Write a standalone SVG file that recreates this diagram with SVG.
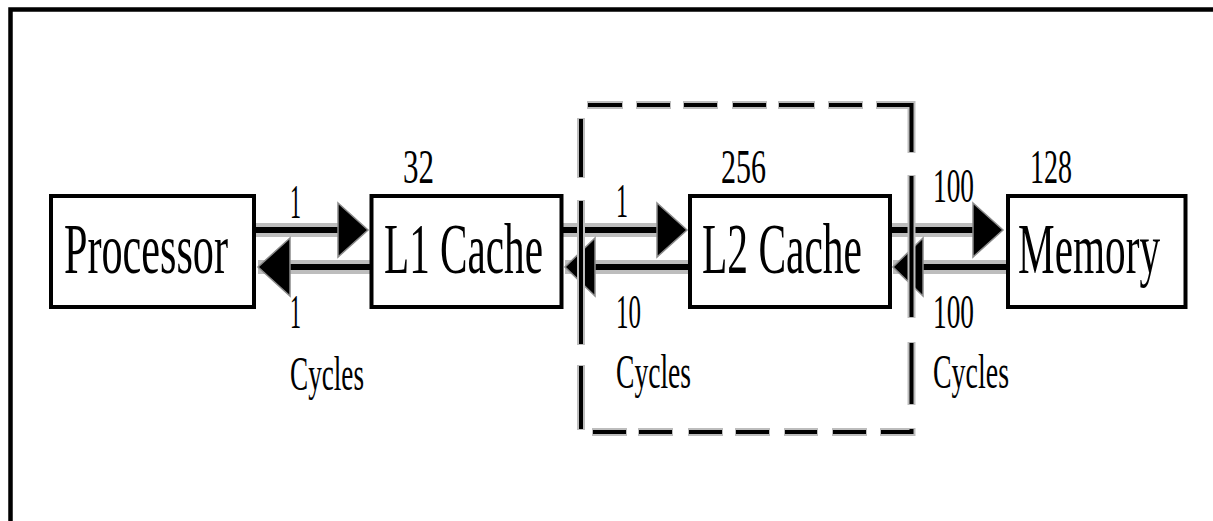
<svg xmlns="http://www.w3.org/2000/svg" width="1213" height="521" viewBox="0 0 1213 521">
<style>
.frame{fill:none;stroke:#000;stroke-width:4.5}
.box{fill:#fff;stroke:#000;stroke-width:4}
.halo{fill:none;stroke:#bdbdbd;stroke-width:14}
.wire{fill:none;stroke:#000;stroke-width:6}
.head{fill:#000;stroke:#8a8a8a;stroke-width:1.5}
.dhalo{fill:none;stroke:#bdbdbd;stroke-width:8}
.dash{fill:none;stroke:#000;stroke-width:4}
.big{font-family:"Liberation Serif",serif;font-size:72px;fill:#000}
.lbl{font-family:"Liberation Serif",serif;font-size:49px;fill:#000}
</style>
<rect width="1213" height="521" fill="#fff"/>
<path class="frame" d="M10.5 521V9.5H1213"/>
<g id="connectors">
<path class="halo" d="M256 230H340M258 267H370M562 230H660M565 267H690M890 230H975M893 267H1008"/>
<path class="wire" d="M256 230H345M285 267H370M562 230H665M590 267H690M890 230H980M918 267H1008"/>
<polygon class="head" points="338,203 368,230 338,257"/>
<polygon class="head" points="290,238 258,267 290,296"/>
<polygon class="head" points="657,203 687,230 657,257"/>
<polygon class="head" points="595,238 565,267 595,296"/>
<polygon class="head" points="973,203 1003,230 973,257"/>
<polygon class="head" points="923,238 893,267 923,296"/>
<text class="lbl" x="290" y="218" textLength="11" lengthAdjust="spacingAndGlyphs">1</text>
<text class="lbl" x="290" y="328" textLength="11" lengthAdjust="spacingAndGlyphs">1</text>
<text class="lbl" x="290" y="390" textLength="74" lengthAdjust="spacingAndGlyphs">Cycles</text>
<text class="lbl" x="616" y="217" textLength="12" lengthAdjust="spacingAndGlyphs">1</text>
<text class="lbl" x="616" y="328" textLength="25" lengthAdjust="spacingAndGlyphs">10</text>
<text class="lbl" x="616" y="388" textLength="75" lengthAdjust="spacingAndGlyphs">Cycles</text>
<text class="lbl" x="933" y="202" textLength="41" lengthAdjust="spacingAndGlyphs">100</text>
<text class="lbl" x="933" y="328" textLength="41" lengthAdjust="spacingAndGlyphs">100</text>
<text class="lbl" x="933" y="388" textLength="76" lengthAdjust="spacingAndGlyphs">Cycles</text>
</g>
<g id="l2-boundary">
<path class="dhalo" d="M587 105H623M636 105H671M683 105H718M732 105H767M778 105H815M828 105H863M876 105H911.5V153M911.5 175V318M911.5 342V405M592 432H627M638 432H673M688 432H723M735 432H770M784 432H818M832 432H867M880 432H911.5V428M581 118V178M581 200V345M581 365V430"/>
<path class="dash" d="M588 105H622M637 105H670M684 105H717M733 105H766M779 105H814M829 105H862M877 105H911.5V152M911.5 176V317M911.5 343V404M593 432H626M639 432H672M689 432H722M736 432H769M785 432H817M833 432H866M881 432H911.5V429M581 119V177M581 201V344M581 366V429"/>
</g>
<g id="processor">
<rect class="box" x="51" y="196" width="203" height="111"/>
<text class="big" x="64" y="273" textLength="164" lengthAdjust="spacingAndGlyphs">Processor</text>
</g>
<g id="l1-cache">
<rect class="box" x="371.5" y="196" width="190" height="111"/>
<text class="big" x="384" y="273" textLength="159" lengthAdjust="spacingAndGlyphs">L1 Cache</text>
<text class="lbl" x="403" y="183" textLength="31" lengthAdjust="spacingAndGlyphs">32</text>
</g>
<g id="l2-cache">
<rect class="box" x="690" y="196" width="200" height="111"/>
<text class="big" x="702" y="273" textLength="160" lengthAdjust="spacingAndGlyphs">L2 Cache</text>
<text class="lbl" x="721" y="183" textLength="45" lengthAdjust="spacingAndGlyphs">256</text>
</g>
<g id="memory">
<rect class="box" x="1008" y="196" width="177.5" height="111"/>
<text class="big" x="1018" y="273" textLength="142" lengthAdjust="spacingAndGlyphs">Memory</text>
<text class="lbl" x="1030" y="183" textLength="42" lengthAdjust="spacingAndGlyphs">128</text>
</g>
</svg>
